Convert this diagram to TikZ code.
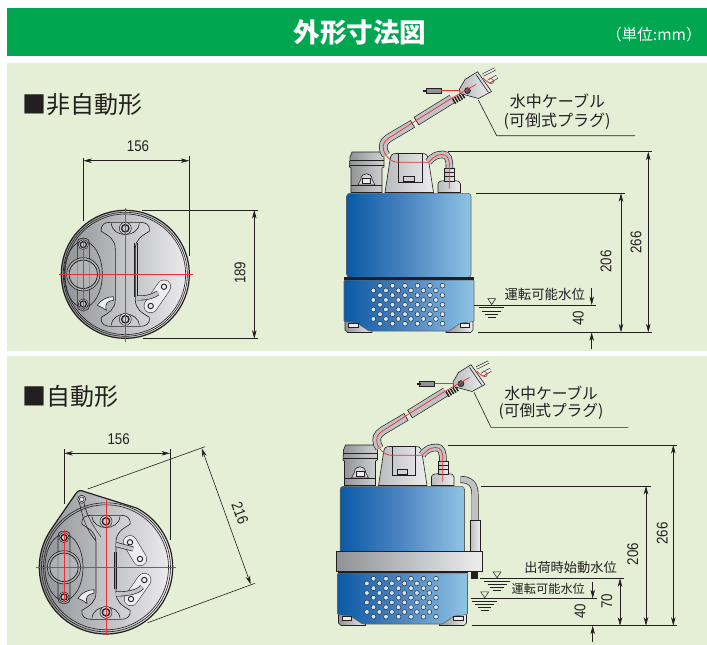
\documentclass[tikz,border=0pt]{standalone}
\usepackage{graphicx}
\usepackage{fontspec}
\setmainfont{Noto Sans CJK JP}
\newfontfamily\dimfont{Liberation Sans}
\usetikzlibrary{arrows.meta,calc}
\definecolor{hdr}{HTML}{00A650}
\definecolor{pnl}{HTML}{E5EFD6}
\definecolor{ink}{HTML}{231F20}
\definecolor{redl}{HTML}{EE2D35}
\definecolor{tubeg}{HTML}{C0C2C4}
\definecolor{metald}{HTML}{909295}
\definecolor{metall}{HTML}{EDEDEF}
\definecolor{blueL}{HTML}{0A5AA6}
\definecolor{blueM}{HTML}{4E86C2}
\definecolor{blueR}{HTML}{8FC4E4}
\newcommand\dimt[1]{\scalebox{.86}[1]{#1}}
\tikzset{
 dimline/.style={ink,line width=.6pt,{Stealth[length=8.5pt,width=4.5pt,inset=2.5pt]}-{Stealth[length=8.5pt,width=4.5pt,inset=2.5pt]}},
 dimend/.style={ink,line width=.6pt,-{Stealth[length=8.5pt,width=4.5pt,inset=2.5pt]}},
 extline/.style={ink,line width=.6pt},
 redc/.style={redl,line width=.7pt},
 outl/.style={ink,line width=.6pt},
 dimtext/.style={font=\dimfont\fontsize{15.5}{15.5}\selectfont,text=ink,inner sep=0pt},
 jptext/.style={text=ink,inner sep=0pt},
 metal/.style={left color=metald,right color=metall,draw=ink,line width=.6pt},
 metalb/.style={left color=metald!55!metall,right color=metall,draw=ink,line width=.6pt},
 metalc/.style={left color=metald,right color=metall!70!metald,draw=ink,line width=.6pt},
 blue/.style={left color=blueL,right color=blueR,middle color=blueM,draw=ink!70,line width=.6pt},
}
\newcommand\boltd[3]{%
 \draw[ink,line width=.5pt,fill=metall!70!metald] (#1,#2) circle[radius=#3];
 \draw[ink,line width=1.3pt,fill=metall!60!metald] (#1,#2) circle[radius=#3*.62];}
\newcommand\smallbolt[2]{\draw[ink,line width=.9pt,fill=metall] (#1,#2) circle[radius=2.7];}
\newcommand\tube[2]{%
 \draw[ink,line width=#2pt,line cap=butt] #1;
 \draw[tubeg,line width=#2pt-1.3pt,line cap=butt] #1;}
\newcommand\wlevel[2]{\begin{scope}[shift={(#1,#2)}]
 \draw[ink,line width=.5pt,fill=pnl] (-4,-6.5) -- (4,-6.5) -- (0,-.5) -- cycle;
 \draw[ink,line width=.6pt] (-12.7,2.6) -- (12.7,2.6) (-9.5,6.2) -- (9.5,6.2) (-6.6,9.2) -- (6.6,9.2) (-3.8,12.2) -- (3.8,12.2);
\end{scope}}
\newcommand\plancommon{%
 \draw[outl] (-42,0) ellipse[x radius=19,y radius=33];
 \draw[outl,rounded corners=4pt] (-48,-36) rectangle (-36,36);
 \draw[outl,fill=metald!50!metall,fill opacity=.6] (-42,0) circle[radius=16.6];
 \draw[outl,line width=.8pt] (-42,0) circle[radius=14.2];
 \boltd{-42}{-29.7}{5}\boltd{-42}{29.7}{5}
 \draw[outl,fill=metall,fill opacity=.15] (-10,-25) .. controls (-10,-35) and (-16,-38) .. (-24,-43) .. controls (-25,-50) and (-20,-52) .. (-15,-52) -- (15,-52) .. controls (20,-52) and (25,-50) .. (24,-43) .. controls (16,-38) and (10,-35) .. (10,-25) -- (10,25) .. controls (10,35) and (16,38) .. (24,43) .. controls (25,50) and (20,52) .. (15,52) -- (-15,52) .. controls (-20,52) and (-25,50) .. (-24,43) .. controls (-16,38) and (-10,35) .. (-10,25) -- cycle;
 \draw[outl] (-14,-51) .. controls (-13,-36) and (13,-36) .. (14,-51);
 \draw[outl] (-14,51) .. controls (-13,36) and (13,36) .. (14,51);
 \boltd{0}{-46}{6}\boltd{0}{45}{6}
 \draw[outl,fill=metall] (-28,31) .. controls (-24,25) and (-18,22.5) .. (-12,22.4) -- (-12,26) .. controls (-17,27) and (-21,28) .. (-19,36) .. controls (-22,34) and (-25,32) .. (-28,31) -- cycle;
}
\newcommand\pumpdraw{%
 % left cap
 \path[metalc] (350,157) -- (352,152) -- (382,152) -- (384,157) -- (384,167) -- (382,168) -- (382,192.5) -- (351,192.5) -- (351,168) -- (349.5,167) -- cycle;
 \draw[outl] (349.5,160) -- (384,160) (349.5,165) -- (384,165);
 \draw[outl,fill=metall!70!metald] (358,185) -- (361,179) .. controls (361,172) and (372,172) .. (372,179) -- (375,185) -- cycle;
 \draw[outl,fill=metall] (362.5,178) rectangle (370.5,183);
 \draw[outl] (351,185) -- (382,185);
 % centre housing
 \path[metalb] (385,192.5) -- (390,160) .. controls (390.5,155) and (392,153.5) .. (396,153.5) -- (422,153.5) .. controls (426,153.5) and (428,155) .. (428.5,160) -- (433.5,192.5) -- cycle;
 \draw[outl] (398.5,153.5) -- (398.5,182) -- (422,182) -- (422,153.5);
 \draw[outl,fill=metall!70!metald] (403.5,176.5) rectangle (414,181.5);
 % right cap and neck
 \path[metalb] (438,192.5) -- (438,184) .. controls (438,181.5) and (441,180.7) .. (445,180.7) -- (454,180.7) .. controls (458,180.7) and (460.5,181.5) .. (460.5,184) -- (460.5,192.5) -- cycle;
 \path[metalb] (444.5,181) rectangle (454.5,168);
 \draw[outl] (444.5,172) -- (454.5,172) (444.5,176) -- (454.5,176);
 % small pipe
 \tube{(428.5,162) .. controls (433,156) and (437,154.5) .. (443,154.5) .. controls (448,154.5) and (449.5,159) .. (449.5,168)}{7.5}
 % main cable lower
 \tube{(412.5,124) -- (393,135.5) .. controls (386,139.5) and (383.2,142) .. (383.2,147) .. controls (383.2,150) and (384,152) .. (386,155)}{8.5}
 \draw[ink,line width=.6pt] (410.3,120.3) -- (414.7,127.7);
 % main cable upper
 \tube{(416.5,121) -- (452,99)}{9.5}
 \draw[ink,line width=.6pt] (414,117) -- (419,125);
 \foreach \s in {0,.25,.5,.75,1}{\draw[ink,line width=1.5pt] ($(451,96)+(\s*9,-\s*5.5)+(1.5,2.5)$) -- ++(3.2,5.2);}
 % plug
 \draw[ink,line width=3pt] (483,75) -- (495,69);
 \draw[metall,line width=1.8pt] (483,75) -- (495,69);
 \draw[ink,line width=4pt] (488.5,81.7) -- (497,76.8);
 \draw[metall,line width=2.8pt] (488.5,81.7) -- (497,76.8);
 \path[metalb] (459.5,89) -- (465,79.5) -- (477.5,71.7) -- (491.5,91.5) -- (478.5,98.5) -- (460,93.5) -- cycle;
 \draw[outl] (476,74.5) -- (488.5,92.5);
 \draw[ink,fill=metald!60!black,line width=.6pt] (467.5,90.7) circle[radius=3];
 % sensor lead
 \draw[ink,line width=1.2pt] (441,90.7) -- (459,90.7);
 \draw[ink,line width=.6pt,fill=metald] (426,88.6) -- (441,88.6) -- (441,92.8) -- (426,92.8) -- cycle;
 \draw[ink,line width=2pt] (423,90.7) -- (427,90.7);
 \draw[redc] (441,90.7) -- (459,90.7);
 % red centre line
 \draw[redc] (449.3,188.5) -- (449.3,166) .. controls (449.5,158) and (447,154.5) .. (442,154.5) .. controls (436,154.5) and (433,158) .. (428.5,162.3) -- (398,162.3) .. controls (391,162.3) and (383.2,155) .. (383.2,147) .. controls (383.2,142) and (386,139.5) .. (393,135.5) -- (416,120.5) -- (452,98) -- (476,84.5);
 \draw[redc] (483,78) .. controls (487,82) and (491,85) .. (493,83) .. controls (495,81) and (492,78) .. (489,78);
 % upper body
 \path[blue,rounded corners=3pt] (346.7,277.5) -- (346.7,193.3) -- (471,193.3) -- (471,277.5) -- cycle;
 % feet
 \path[metal] (345,321) -- (372,321) -- (372,332.5) -- (347.5,332.5) -- (345,330) -- cycle;
 \path[metal] (473,321) -- (446,321) -- (446,332.5) -- (470.5,332.5) -- (473,330) -- cycle;
 % lower body
 \path[blue,rounded corners=1pt] (344,280) -- (474,280) -- (474,321.5) -- (461,323) -- (449,331) -- (369,331) -- (357,323) -- (344,321.5) -- cycle;
 \draw[outl,fill=metall] (348.5,323.5) rectangle (358,327);
 \draw[outl,fill=metall] (460,323.5) rectangle (469.5,327);
 \fill[ink] (344,277) rectangle (474,280.3);
 % perforations
 \foreach \r in {0,...,8}{
  \pgfmathsetmacro\yy{285.7+4.75*\r}
  \pgfmathtruncatemacro\odd{mod(\r,2)}
  \ifnum\odd=0 \def\xs{380}\else \def\xs{373.4}\fi
  \foreach \c in {0,...,5}{
   \pgfmathsetmacro\xx{\xs+12.5*\c}
   \draw[ink!75!blueL,line width=.5pt,fill=metall!80!blueR] (\xx,\yy) circle[radius=2.4];
  }
 }
}
\begin{document}
\begin{tikzpicture}[x=1pt,y=-1pt]
\useasboundingbox (0,0) rectangle (707,645);
\fill[white] (0,0) rectangle (707,645);
\fill[hdr] (7,8) rectangle (707,55.7);
\fill[pnl] (7,63) rectangle (707,351);
\fill[pnl] (7,356) rectangle (707,645);
\node[text=white,inner sep=0pt,font=\fontsize{26.6}{27}\selectfont\bfseries] (title) at (360,32) {外形寸法図};
\node[text=white,inner sep=0pt,font=\fontsize{15.5}{16}\selectfont] (unit) at (654,35) {（単位:mm）};
\node[jptext,anchor=west,font=\fontsize{24}{25}\selectfont] (secA) at (22,104) {■非自動形};
\node[jptext,anchor=west,font=\fontsize{24}{25}\selectfont] (secB) at (22,396) {■自動形};

% --- plan view A
\path[metal,line width=1.2pt] (125.3,274.3) circle[radius=64];
\draw[outl] (125.3,274.3) circle[radius=62];
\draw[outl] (125.3,274.3) circle[radius=60.3];
\begin{scope}[shift={(125.3,274.3)}]\plancommon\end{scope}
\draw[ink,line width=1.6pt] (137.3,242.7) -- (137.3,296.7);
\draw[outl] (134.5,242.7) -- (134.5,296.7);
\draw[ink,line width=14pt,line cap=round] (164,286.7) -- (150.7,306);
\draw[metall,line width=13pt,line cap=round] (164,286.7) -- (150.7,306);
\tube{(137,298) .. controls (146,298) and (152,297) .. (158,293)}{5}
\smallbolt{164}{286.7}\smallbolt{150.7}{306}
\draw[redc] (59.3,274.3) -- (192.7,274.3) (125.3,208) -- (125.3,341.7) (83.3,236.7) -- (83.3,311.7);
% dims A
\draw[extline] (83.3,158) -- (83.3,220.7) (189.3,156) -- (189.3,256);
\draw[dimline] (83.3,160.7) -- (189.3,160.7);
\node[dimtext] (dimA156) at (138,146) {\dimt{156}};
\draw[extline] (141.7,210) -- (258,210) (142.7,338.7) -- (258,338.7);
\draw[dimline] (254.3,210) -- (254.3,338.7);
\node[dimtext,rotate=90] (dimA189) at (240,272.7) {\dimt{189}};

% --- plan view B
\path[metal,line width=1.2pt] plot[domain=297.3:576.5,samples=90] ({106+66.7*cos(\x)},{567.3+66.7*sin(\x)}) -- (75.5,494) .. controls (78,490) and (81,490) .. (84,491.5) -- cycle;
\draw[outl] (106,567.3) circle[radius=64.5];
\draw[outl] (106,567.3) circle[radius=62.5];
\draw[outl,fill=metall] (81.7,499.3) circle[radius=4];
\draw[outl] (81.7,499.3) circle[radius=2.4];
\draw[outl] (79.5,503) .. controls (82,515) and (86,530) .. (96,541);
\draw[outl] (84,503) .. controls (86,513) and (92,525) .. (101,537);
\begin{scope}[shift={(106,567.3)}]\plancommon\end{scope}
\draw[ink,line width=1.6pt] (116.5,552) -- (116.5,589);
\draw[outl] (114,552) -- (114,589);
\draw[ink,line width=14pt,line cap=round] (130,542.3) -- (140,559);
\draw[metall,line width=13pt,line cap=round] (130,542.3) -- (140,559);
\tube{(116,544.5) -- (133,549)}{5}
\draw[ink,line width=14pt,line cap=round] (144.3,580) -- (131,599);
\draw[metall,line width=13pt,line cap=round] (144.3,580) -- (131,599);
\tube{(116,594) .. controls (128,594) and (138,592) .. (142,587)}{5}
\smallbolt{130}{542.3}\smallbolt{140}{559}\smallbolt{144.3}{580}\smallbolt{131}{599}
\draw[redc] (36,567.3) -- (176,567.3) (106,500) -- (106,635) (64.3,530) -- (64.3,602);
% dims B
\draw[extline] (64.3,449.3) -- (64.3,504) (170,449.3) -- (170,540);
\draw[dimline] (64.3,453.3) -- (170,453.3);
\node[dimtext] (dimB156) at (118.7,439.3) {\dimt{156}};
\draw[extline] (87.7,489) -- (205,446.7) (147.7,622.7) -- (255,583.3);
\draw[dimline] (201.7,448.3) -- (250.7,584.3);
\node[dimtext,rotate=-70] (dimB216) at (240,513.3) {\dimt{216}};

% --- pump A
\pumpdraw
\draw[extline] (478.3,100) -- (496.7,135.7) -- (635,135.7);
\node[jptext,font=\fontsize{16}{17}\selectfont] (cabA1) at (557.5,101) {水中ケーブル};
\node[jptext,font=\fontsize{16}{17}\selectfont] (cabA2) at (557,121) {(可倒式プラグ)};
\draw[extline] (448.3,151.7) -- (652.3,151.7) (478.3,332.3) -- (652.3,332.3) (476,193.3) -- (625,193.3) (474,305) -- (596,305);
\draw[dimline] (648.3,151.7) -- (648.3,332.3);
\draw[dimline] (621,193.3) -- (621,332.3);
\node[dimtext,rotate=90] (dimC266) at (636,242.7) {\dimt{266}};
\node[dimtext,rotate=90] (dimC206) at (606,261.7) {\dimt{206}};
\node[jptext,font=\fontsize{13.4}{14}\selectfont] (runA) at (544.7,294) {運転可能水位};
\wlevel{491.7}{305}
\draw[dimend] (591.7,288.3) -- (591.7,305);
\draw[dimend] (591.7,349.3) -- (591.7,332.3);
\node[dimtext,rotate=90] (dimC40) at (578.3,318.3) {\dimt{40}};

% --- pump B
\begin{scope}[shift={(-6.5,293)}]\pumpdraw\end{scope}
\tube{(460.5,479.5) .. controls (470,479.5) and (475,484) .. (475,494) -- (475,520)}{7}
\path[metalb] (470,520) -- (480,520) -- (480,552) -- (470,552) -- cycle;
\draw[outl,fill=ink] (471,571) rectangle (477.5,578);
\path[metal,line width=.7pt] (336.7,551.7) rectangle (482.7,571.7);
\draw[extline] (474,392.3) -- (491,427.3) -- (628.3,427.3);
\node[jptext,font=\fontsize{15.7}{17}\selectfont] (cabB1) at (551.3,393.3) {水中ケーブル};
\node[jptext,font=\fontsize{15.7}{17}\selectfont] (cabB2) at (551,411.7) {(可倒式プラグ)};
\draw[extline] (447.7,445) -- (676.7,445) (471.7,625.7) -- (677,625.7) (481,486) -- (650.7,486) (480,578.3) -- (624,578.3) (470.7,598.3) -- (596.7,598.3);
\draw[dimline] (673.3,445) -- (673.3,625.7);
\draw[dimline] (646,486) -- (646,625.7);
\draw[dimline] (620,578.3) -- (620,625.7);
\node[dimtext,rotate=90] (dimD266) at (662.3,533.3) {\dimt{266}};
\node[dimtext,rotate=90] (dimD206) at (632.7,554) {\dimt{206}};
\node[dimtext,rotate=90] (dimD70) at (606.7,601) {\dimt{70}};
\node[dimtext,rotate=90] (dimD40) at (580,611) {\dimt{40}};
\node[jptext,font=\fontsize{13.2}{14}\selectfont] (startB) at (570.5,567.7) {出荷時始動水位};
\node[jptext,font=\fontsize{12.2}{13}\selectfont] (runB) at (548.3,589.3) {運転可能水位};
\wlevel{497}{578.3}
\wlevel{484.7}{598.3}
\draw[dimend] (592.7,581.7) -- (592.7,598.3);
\draw[dimend] (592.7,642) -- (592.7,625.7);
\end{tikzpicture}
\end{document}
